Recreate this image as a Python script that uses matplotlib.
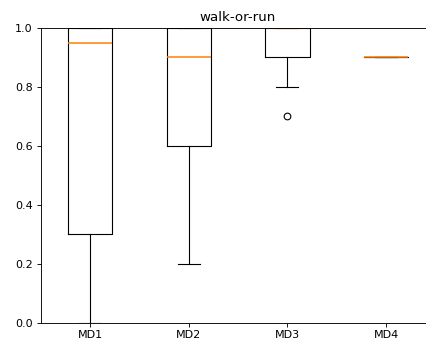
import matplotlib
matplotlib.use('Agg')
import matplotlib.pyplot as plt

# box statistics
labels = ['MD1', 'MD2', 'MD3', 'MD4']
whislo = [0.0, 0.2, 0.8, 0.9]
q1 = [0.3, 0.6, 0.9, 0.9]
med = [0.95, 0.9, 1.0, 0.9]
q3 = [1.0, 1.0, 1.0, 0.9]
whishi = [1.0, 1.0, 1.0, 0.9]
fliers = [[], [], [0.7], []]

stats = []
for i in range(len(labels)):
    stats.append({'label': labels[i], 'whislo': whislo[i], 'q1': q1[i],
                  'med': med[i], 'q3': q3[i], 'whishi': whishi[i],
                  'fliers': fliers[i]})

fig = plt.figure(figsize=(426 / 80, 343 / 80), dpi=80)
ax = fig.add_axes([40.7 / 426, 20.3 / 343, 394.7 / 426, 294.7 / 343])
ax.bxp(stats, medianprops={'color': '#ff7f0e', 'linewidth': 1.4})
ax.set_ylim(0, 1.0)
ax.set_title('walk-or-run')

fig.savefig('out.png', dpi=80)
